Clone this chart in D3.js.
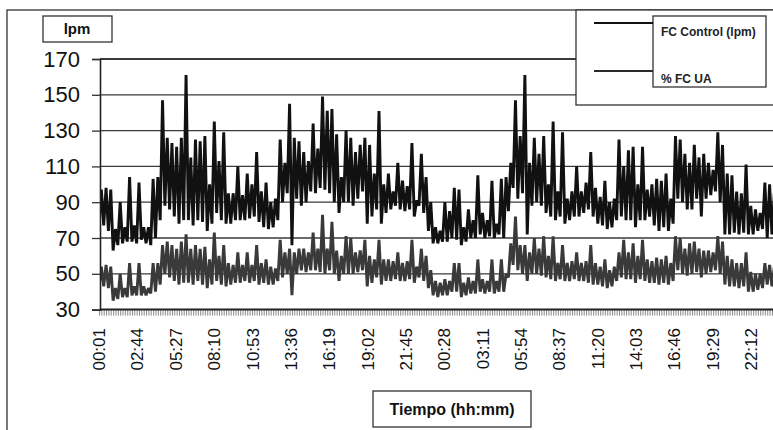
<!DOCTYPE html>
<html>
<head>
<meta charset="utf-8">
<script src="https://cdn.jsdelivr.net/npm/d3@7"></script>
<style>
  body { margin: 0; background: #fff; }
  svg { display: block; font-family: "Liberation Sans", Arial, sans-serif; }
</style>
</head>
<body>
<svg id="chart" width="773" height="430"></svg>
<script>
// heart rate recording, 2 days, one lo/hi pair per 20 min block
var yTicks = [30, 50, 70, 90, 110, 130, 150, 170];
var tickLabels = ["00:01", "02:44", "05:27", "08:10", "10:53", "13:36", "16:19", "19:02", "21:45",
                  "00:28", "03:11", "05:54", "08:37", "11:20", "14:03", "16:46", "19:29", "22:12"];
var seriesNames = ["FC Control (lpm)", "% FC UA"];

var ctrlLo = [76,77,74,63,66,67,68,68,67,69,67,66,70,80,88,86,82,78,80,80,77,80,79,74,78,84,80,78,78,80,
              80,80,81,82,79,76,75,76,80,90,95,66,92,88,90,96,95,98,97,95,90,84,90,90,88,92,96,78,82,86,
              78,84,86,88,86,85,86,82,88,84,74,67,67,68,68,70,69,66,68,70,70,72,70,71,70,72,70,85,98,92,
              95,72,88,90,88,84,82,80,82,78,80,82,82,84,86,82,78,77,75,76,80,82,80,80,76,80,80,82,77,74,
              76,74,78,92,90,86,86,92,82,92,94,96,90,72,72,73,72,73,72,72,74,75,70,72];
var ctrlHi = [97,98,97,75,90,76,104,77,101,76,76,103,104,147,126,123,121,126,161,115,125,124,127,100,135,113,129,95,95,110,
              94,106,100,118,96,101,90,92,125,112,145,126,124,118,113,134,120,149,141,142,128,104,130,126,118,122,126,122,106,141,
              100,106,96,112,102,99,123,91,117,104,90,76,74,90,85,98,97,76,86,80,105,84,80,102,78,103,104,112,147,127,
              161,112,126,117,127,100,135,96,129,92,96,110,96,101,118,98,93,102,90,92,125,110,119,121,100,121,97,100,103,102,
              106,92,127,125,117,112,122,115,117,112,108,129,122,106,105,96,95,111,88,86,84,101,100,95];

var uaLo = [42,43,42,35,36,37,37,38,38,38,38,39,40,44,50,48,46,44,45,45,44,46,44,42,44,46,44,43,44,45,
            45,46,45,46,44,45,44,44,46,48,50,38,50,52,51,52,52,51,50,52,50,46,50,50,50,51,52,43,45,48,
            44,46,46,47,46,46,47,45,48,46,42,38,37,38,38,40,40,37,38,39,39,40,39,40,39,40,40,48,55,52,
            50,46,50,50,49,48,47,46,47,46,46,47,46,46,45,44,44,43,42,43,46,48,47,47,45,47,46,45,45,44,
            45,44,46,52,50,49,50,51,48,50,51,52,50,44,43,43,42,43,40,40,41,42,44,43];
var uaHi = [54,55,54,42,50,42,56,43,56,43,42,56,56,66,68,66,64,68,72,64,66,64,65,58,73,60,66,56,55,62,
            55,62,55,66,56,58,54,53,69,62,64,62,64,64,62,73,64,83,64,79,63,60,71,70,62,63,69,60,58,69,
            58,58,57,62,56,57,69,54,64,60,52,46,45,47,46,56,56,45,48,46,58,47,46,58,46,58,50,67,82,66,
            66,62,70,64,71,60,71,56,66,56,57,62,56,57,66,56,54,58,52,54,62,69,62,67,60,69,58,57,59,58,
            60,56,71,70,64,67,68,64,63,63,62,71,68,60,58,56,56,62,51,50,50,56,55,54];

var startMin = 1;      // 00:01
var blockMin = 20;     // one lo/hi pair per block
var labelStepMin = 163;

var svg = d3.select("#chart");
var W = 773, H = 430;

var x = d3.scaleLinear()
    .domain([startMin, startMin + labelStepMin * (tickLabels.length - 1)])
    .range([99, 751]);
var y = d3.scaleLinear().domain([30, 170]).range([309.6, 59]);

var plotLeft = 100, plotRight = W;

// outer frame
svg.append("rect").attr("x", 7).attr("y", 10).attr("width", W + 10).attr("height", H + 10)
    .attr("fill", "none").attr("stroke", "#333").attr("stroke-width", 1.3);

// gridlines
svg.append("g").selectAll("line")
    .data(yTicks.slice(1))
    .enter().append("line")
    .attr("x1", plotLeft).attr("x2", plotRight)
    .attr("y1", function(d) { return y(d); }).attr("y2", function(d) { return y(d); })
    .attr("stroke", "#3a3a3a")
    .attr("stroke-width", function(d) { return d === 170 ? 2 : 1.3; });

// build zigzag points lo -> hi inside each block
function buildPoints(lo, hi) {
    var pts = [];
    for (var i = 0; i < lo.length; i++) {
        var t = startMin + i * blockMin;
        pts.push([t, lo[i]]);
        pts.push([t + blockMin / 2, hi[i]]);
    }
    return pts;
}

var line = d3.line()
    .x(function(d) { return x(d[0]); })
    .y(function(d) { return y(d[1]); });

svg.append("clipPath").attr("id", "plotClip")
    .append("rect").attr("x", plotLeft).attr("y", 40).attr("width", plotRight - plotLeft).attr("height", 272);

var plot = svg.append("g").attr("clip-path", "url(#plotClip)");

plot.append("path")
    .datum(buildPoints(uaLo, uaHi))
    .attr("d", line)
    .attr("fill", "none")
    .attr("stroke", "#3a3a3a")
    .attr("stroke-width", 2.9)
    .attr("stroke-linejoin", "bevel");

plot.append("path")
    .datum(buildPoints(ctrlLo, ctrlHi))
    .attr("d", line)
    .attr("fill", "none")
    .attr("stroke", "#111")
    .attr("stroke-width", 2.9)
    .attr("stroke-linejoin", "bevel");

// x axis: dense hatch of category ticks
var hatch = [];
for (var t = startMin; x(t) <= W; t += 10) hatch.push(t);
svg.append("g")
    .attr("transform", "translate(0," + y(30) + ")")
    .call(d3.axisBottom(x).tickValues(hatch).tickSize(6).tickFormat(""))
    .call(function(g) {
        g.select(".domain").remove();
        g.selectAll(".tick line").attr("stroke", "#8a8a8a").attr("stroke-width", 1);
    });
svg.append("line")
    .attr("x1", plotLeft).attr("x2", plotRight)
    .attr("y1", y(30)).attr("y2", y(30))
    .attr("stroke", "#222").attr("stroke-width", 2);

// x tick labels, rotated
var labelTicks = tickLabels.map(function(d, i) { return startMin + i * labelStepMin; });
svg.append("g").selectAll("text")
    .data(labelTicks)
    .enter().append("text")
    .attr("transform", function(d) { return "translate(" + x(d) + ",328) rotate(-90)"; })
    .attr("text-anchor", "end")
    .attr("dy", "0.36em")
    .attr("font-size", 17)
    .attr("fill", "#111")
    .text(function(d, i) { return tickLabels[i]; });

// y axis
svg.append("g")
    .attr("transform", "translate(" + plotLeft + ",0)")
    .call(d3.axisLeft(y).tickValues(yTicks).tickSize(8).tickPadding(12))
    .call(function(g) {
        g.select(".domain").attr("stroke", "#222").attr("stroke-width", 1.6);
        g.selectAll(".tick line").attr("stroke", "#333").attr("stroke-width", 1.3);
        g.selectAll(".tick text").attr("font-size", 22).attr("fill", "#111")
            .attr("font-family", "'Liberation Sans', Arial, sans-serif");
    });

// "lpm" box
svg.append("rect").attr("x", 43).attr("y", 16).attr("width", 69).attr("height", 26)
    .attr("fill", "#fff").attr("stroke", "#333").attr("stroke-width", 1.3);
svg.append("text").attr("x", 77).attr("y", 34).attr("text-anchor", "middle")
    .attr("font-size", 15).attr("font-weight", "bold").attr("fill", "#111").text("lpm");

// "Tiempo" box
svg.append("rect").attr("x", 373).attr("y", 391).attr("width", 158).attr("height", 36)
    .attr("fill", "#fff").attr("stroke", "#333").attr("stroke-width", 1.3);
svg.append("text").attr("x", 452).attr("y", 415).attr("text-anchor", "middle")
    .attr("font-size", 16).attr("font-weight", "bold").attr("fill", "#111").text("Tiempo (hh:mm)");

// legend
var leg = svg.append("g");
leg.append("rect").attr("x", 576).attr("y", 10).attr("width", 210).attr("height", 95)
    .attr("fill", "#fff").attr("stroke", "#333").attr("stroke-width", 1.3);
leg.append("rect").attr("x", 653).attr("y", 16).attr("width", 113).attr("height", 71)
    .attr("fill", "#fff").attr("stroke", "#333").attr("stroke-width", 1.3);
var legY = [23, 71];
var legColors = ["#111", "#2a2a2a"];
leg.selectAll("line.key")
    .data(seriesNames)
    .enter().append("line")
    .attr("class", "key")
    .attr("x1", 594).attr("x2", 653)
    .attr("y1", function(d, i) { return legY[i]; }).attr("y2", function(d, i) { return legY[i]; })
    .attr("stroke", function(d, i) { return legColors[i]; })
    .attr("stroke-width", 2);
leg.selectAll("text")
    .data(seriesNames)
    .enter().append("text")
    .attr("x", 661)
    .attr("y", function(d, i) { return i === 0 ? 36 : 83; })
    .attr("font-size", 12)
    .attr("font-weight", "bold")
    .attr("fill", "#222")
    .text(function(d) { return d; });
</script>
</body>
</html>
